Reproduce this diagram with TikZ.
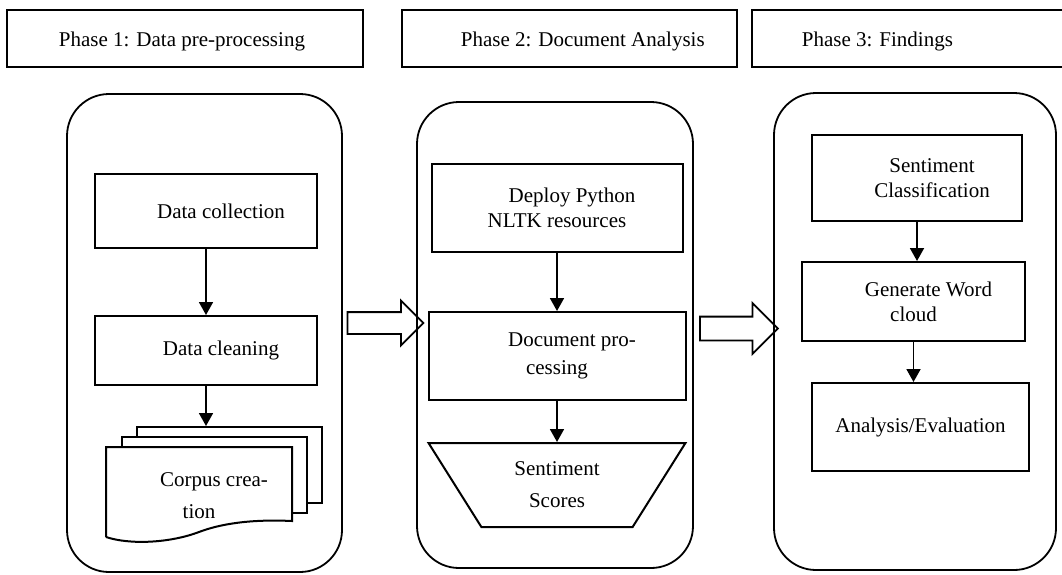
\documentclass[tikz,border=0pt]{standalone}
\usepackage{fontspec}
\setmainfont{Liberation Serif}
\usetikzlibrary{arrows.meta,positioning,shapes.geometric,shapes.arrows}

\newcommand{\firstind}{\hspace*{30pt}}

\begin{document}
\begin{tikzpicture}[x=1pt,y=-1pt,->,>={Triangle[length=13pt,width=14pt]},
    font=\fontsize{21}{25}\selectfont,
    phase box/.style={draw,line width=2.6pt,minimum height=57pt},
    phase text/.style={inner sep=0pt,yshift=-3pt},
    column/.style={draw,rounded corners=42pt,line width=1.8pt},
    step box/.style={draw,line width=2pt,align=center},
    sheet/.style={draw,fill=white,line width=2pt,minimum width=185pt,minimum height=76pt},
    block arrow/.style={single arrow,draw,line width=1.8pt,text height=0pt,text depth=0pt,inner xsep=0pt}]

  \useasboundingbox (0,0) rectangle (1062,574);

  % phase headings
  \node[phase box,minimum width=356pt] (ph1) at (185,38.5) {};
  \node[phase box,minimum width=335pt] (ph2) at (569.5,38.5) {};
  \node[phase box,minimum width=330pt] (ph3) at (917,38.5) {};
  \node[phase text,right=53pt of ph1.west] (ph1txt) {Phase 1: Data pre-processing};
  \node[phase text,right=60pt of ph2.west] (ph2txt) {Phase 2: Document Analysis};
  \node[phase text,right=51pt of ph3.west] (ph3txt) {Phase 3: Findings};

  % columns
  \node[column,minimum width=275pt,minimum height=478pt] (col1) at (204.5,333) {};
  \node[column,minimum width=276pt,minimum height=466pt] (col2) at (555,335) {};
  \node[column,minimum width=282pt,minimum height=477pt] (col3) at (915,331.5) {};

  \node[block arrow,minimum height=76pt,inner ysep=10pt,single arrow head extend=11.5pt] (arr1) at (380,323) {};
  \node[block arrow,minimum height=78pt,inner ysep=11pt,single arrow head extend=13.5pt] (arr2) at (733,328.5) {};

  % phase 1
  \node[step box,minimum width=222pt,minimum height=74pt] (collect) at (206,211) {\firstind Data collection};
  \node[step box,minimum width=222pt,minimum height=69pt] (clean) at (206,350.5) {\firstind Data cleaning};
  \node[sheet] (back) at (229.5,465) {};
  \node[sheet] (mid) at (214.5,475) {};
  \draw[-,fill=white,line width=2pt] (106,537) -- (106,447) -- (292,447) -- (292,521)
    .. controls (250,519) and (220,524) .. (199,532)
    .. controls (170,543) and (130,545) .. (106,537);
  \node[align=center] (corpus) at (199,496) {\firstind Corpus crea-\\[7pt]tion};

  \path[line width=1.8pt] (collect) edge (clean)
    (clean.south) edge (clean.south |- back.north);

  % phase 2
  \node[step box,minimum width=251pt,minimum height=88pt] (nltk) at (557,208) {\firstind Deploy Python\\NLTK resources};
  \node[step box,minimum width=257pt,minimum height=88pt] (docproc) at (557,356) {\firstind Document pro-\\[3pt]cessing};
  \node[trapezium,draw,line width=2pt,shape border rotate=180,trapezium left angle=58.7,
        trapezium right angle=58.7,trapezium stretches=true,minimum width=257pt,
        minimum height=84pt,align=center] (scores) at (557,485) {Sentiment\\[7pt]Scores};

  \path[line width=1.8pt] (nltk) edge (docproc)
    (docproc) edge (scores);

  % phase 3
  \node[step box,minimum width=210pt,minimum height=86pt] (classify) at (917,178) {\firstind Sentiment\\\firstind Classification};
  \node[step box,minimum width=223pt,minimum height=79pt] (cloud) at (913.5,301.5) {\firstind Generate Word\\cloud};
  \node[step box,minimum width=217pt,minimum height=88pt] (eval) at (920.5,427) {Analysis/Evaluation};

  \path[line width=1.8pt] (classify.south) edge (classify.south |- cloud.north)
    (cloud.south) edge (cloud.south |- eval.north);
\end{tikzpicture}
\end{document}
